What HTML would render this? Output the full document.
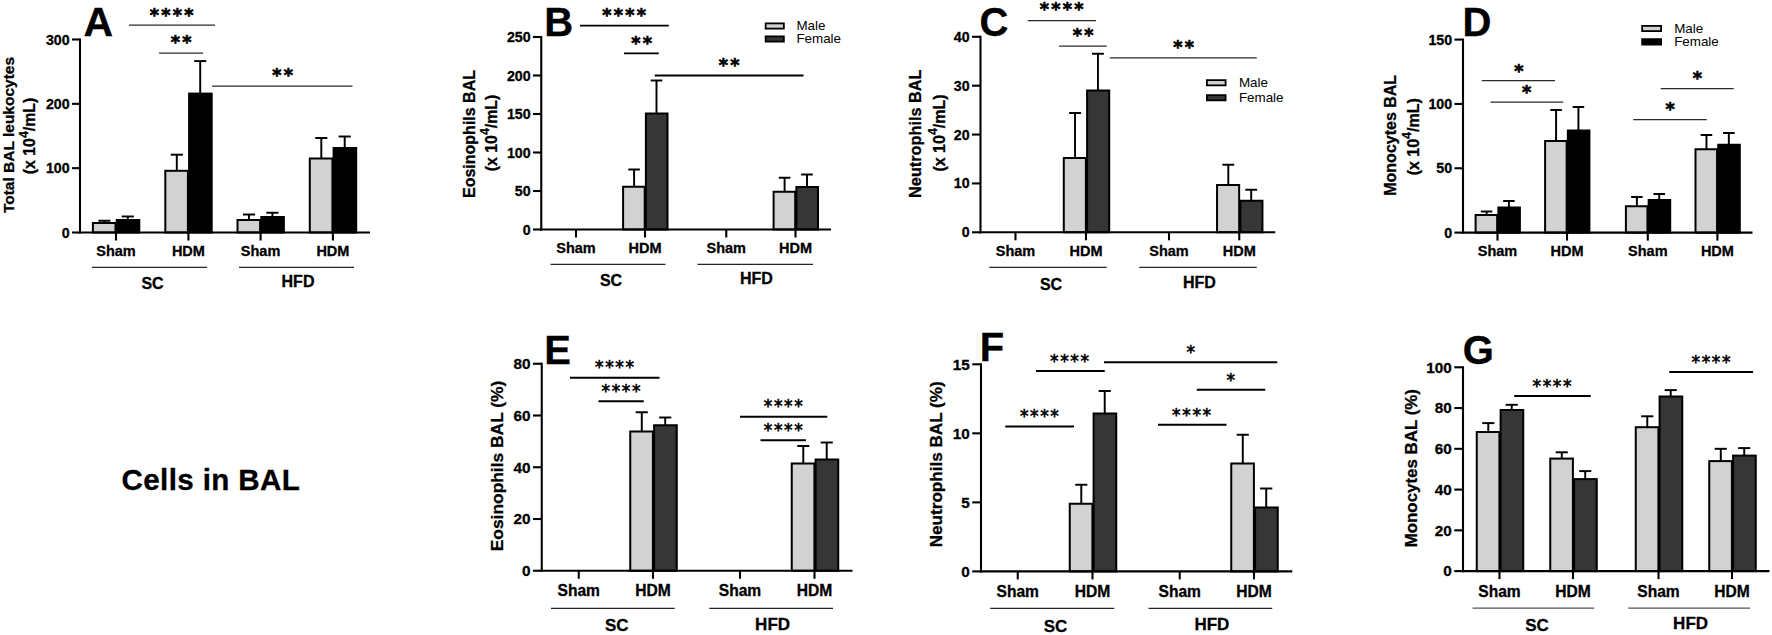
<!DOCTYPE html>
<html lang="en"><head><meta charset="utf-8"><title>Cells in BAL</title>
<style>html,body{margin:0;padding:0;background:#fff;}body{width:1772px;height:635px;overflow:hidden;}svg{display:block;}</style>
</head><body>
<svg width="1772" height="635" viewBox="0 0 1772 635" font-family='"Liberation Sans", sans-serif' fill="#000">
<rect x="0" y="0" width="1772" height="635" fill="#fff"/>
<g id="panel-A">
<line x1="104.4" y1="220.75" x2="104.4" y2="223" stroke="#000" stroke-width="1.95" stroke-linecap="butt"/>
<line x1="98.35" y1="220.75" x2="110.45" y2="220.75" stroke="#000" stroke-width="1.95" stroke-linecap="butt"/>
<rect x="92.9" y="223" width="22.6" height="9.5" fill="#d2d2d2" stroke="#000" stroke-width="2"/>
<line x1="127.8" y1="216.5" x2="127.8" y2="220" stroke="#000" stroke-width="1.95" stroke-linecap="butt"/>
<line x1="121.75" y1="216.5" x2="133.85" y2="216.5" stroke="#000" stroke-width="1.95" stroke-linecap="butt"/>
<rect x="116.7" y="220" width="22.6" height="12.5" fill="#000000" stroke="#000" stroke-width="2"/>
<line x1="176.8" y1="154.7" x2="176.8" y2="170.8" stroke="#000" stroke-width="1.95" stroke-linecap="butt"/>
<line x1="170.75" y1="154.7" x2="182.85" y2="154.7" stroke="#000" stroke-width="1.95" stroke-linecap="butt"/>
<rect x="165.3" y="170.8" width="22.6" height="61.7" fill="#d2d2d2" stroke="#000" stroke-width="2"/>
<line x1="200.2" y1="61.1" x2="200.2" y2="93.6" stroke="#000" stroke-width="1.95" stroke-linecap="butt"/>
<line x1="194.15" y1="61.1" x2="206.25" y2="61.1" stroke="#000" stroke-width="1.95" stroke-linecap="butt"/>
<rect x="189.1" y="93.6" width="22.6" height="138.9" fill="#000000" stroke="#000" stroke-width="2"/>
<line x1="249" y1="214.5" x2="249" y2="220" stroke="#000" stroke-width="1.95" stroke-linecap="butt"/>
<line x1="242.95" y1="214.5" x2="255.05" y2="214.5" stroke="#000" stroke-width="1.95" stroke-linecap="butt"/>
<rect x="237.5" y="220" width="22.6" height="12.5" fill="#d2d2d2" stroke="#000" stroke-width="2"/>
<line x1="272.4" y1="212.75" x2="272.4" y2="217" stroke="#000" stroke-width="1.95" stroke-linecap="butt"/>
<line x1="266.35" y1="212.75" x2="278.45" y2="212.75" stroke="#000" stroke-width="1.95" stroke-linecap="butt"/>
<rect x="261.3" y="217" width="22.6" height="15.5" fill="#000000" stroke="#000" stroke-width="2"/>
<line x1="321.3" y1="138" x2="321.3" y2="158.5" stroke="#000" stroke-width="1.95" stroke-linecap="butt"/>
<line x1="315.25" y1="138" x2="327.35" y2="138" stroke="#000" stroke-width="1.95" stroke-linecap="butt"/>
<rect x="309.8" y="158.5" width="22.6" height="74" fill="#d2d2d2" stroke="#000" stroke-width="2"/>
<line x1="344.7" y1="136.5" x2="344.7" y2="148" stroke="#000" stroke-width="1.95" stroke-linecap="butt"/>
<line x1="338.65" y1="136.5" x2="350.75" y2="136.5" stroke="#000" stroke-width="1.95" stroke-linecap="butt"/>
<rect x="333.6" y="148" width="22.6" height="84.5" fill="#000000" stroke="#000" stroke-width="2"/>
<line x1="80" y1="38.45" x2="80" y2="233.55" stroke="#000" stroke-width="2.1" stroke-linecap="butt"/>
<line x1="78.95" y1="232.5" x2="370" y2="232.5" stroke="#000" stroke-width="2.1" stroke-linecap="butt"/>
<line x1="72" y1="232.5" x2="80" y2="232.5" stroke="#000" stroke-width="2.1" stroke-linecap="butt"/>
<text x="69.6" y="237.5" font-size="14.21" font-weight="bold" text-anchor="end" stroke="#000" stroke-width="0.3">0</text>
<line x1="72" y1="168.17" x2="80" y2="168.17" stroke="#000" stroke-width="2.1" stroke-linecap="butt"/>
<text x="69.6" y="173.17" font-size="14.21" font-weight="bold" text-anchor="end" stroke="#000" stroke-width="0.3">100</text>
<line x1="72" y1="103.83" x2="80" y2="103.83" stroke="#000" stroke-width="2.1" stroke-linecap="butt"/>
<text x="69.6" y="108.84" font-size="14.21" font-weight="bold" text-anchor="end" stroke="#000" stroke-width="0.3">200</text>
<line x1="72" y1="39.5" x2="80" y2="39.5" stroke="#000" stroke-width="2.1" stroke-linecap="butt"/>
<text x="69.6" y="44.5" font-size="14.21" font-weight="bold" text-anchor="end" stroke="#000" stroke-width="0.3">300</text>
<line x1="116" y1="232.5" x2="116" y2="240.5" stroke="#000" stroke-width="2.1" stroke-linecap="butt"/>
<text x="116" y="256" font-size="14.5" font-weight="bold" text-anchor="middle" stroke="#000" stroke-width="0.3">Sham</text>
<line x1="188.4" y1="232.5" x2="188.4" y2="240.5" stroke="#000" stroke-width="2.1" stroke-linecap="butt"/>
<text x="188.4" y="256" font-size="14.5" font-weight="bold" text-anchor="middle" stroke="#000" stroke-width="0.3">HDM</text>
<line x1="260.6" y1="232.5" x2="260.6" y2="240.5" stroke="#000" stroke-width="2.1" stroke-linecap="butt"/>
<text x="260.6" y="256" font-size="14.5" font-weight="bold" text-anchor="middle" stroke="#000" stroke-width="0.3">Sham</text>
<line x1="332.9" y1="232.5" x2="332.9" y2="240.5" stroke="#000" stroke-width="2.1" stroke-linecap="butt"/>
<text x="332.9" y="256" font-size="14.5" font-weight="bold" text-anchor="middle" stroke="#000" stroke-width="0.3">HDM</text>
<line x1="92" y1="267.25" x2="207" y2="267.25" stroke="#262626" stroke-width="1.25" stroke-linecap="butt"/>
<line x1="239" y1="267.25" x2="354" y2="267.25" stroke="#262626" stroke-width="1.25" stroke-linecap="butt"/>
<text x="152.5" y="288.9" font-size="16" font-weight="bold" text-anchor="middle" stroke="#000" stroke-width="0.3">SC</text>
<text x="298" y="287.2" font-size="16" font-weight="bold" text-anchor="middle" stroke="#000" stroke-width="0.3">HFD</text>
<text x="149.65" y="20.78" font-family='"DejaVu Sans", "Liberation Sans", sans-serif' font-size="17.6" font-weight="bold" letter-spacing="2.3" stroke="#000" stroke-width="0.7" text-anchor="start">****</text>
<line x1="129" y1="25" x2="215" y2="25" stroke="#2a2a2a" stroke-width="1.25" stroke-linecap="butt"/>
<text x="170.65" y="48.28" font-family='"DejaVu Sans", "Liberation Sans", sans-serif' font-size="17.6" font-weight="bold" letter-spacing="2.3" stroke="#000" stroke-width="0.7" text-anchor="start">**</text>
<line x1="159" y1="53" x2="203" y2="53" stroke="#2a2a2a" stroke-width="1.25" stroke-linecap="butt"/>
<text x="272.15" y="81.28" font-family='"DejaVu Sans", "Liberation Sans", sans-serif' font-size="17.6" font-weight="bold" letter-spacing="2.3" stroke="#000" stroke-width="0.7" text-anchor="start">**</text>
<line x1="212" y1="86" x2="352.5" y2="86" stroke="#2a2a2a" stroke-width="1.25" stroke-linecap="butt"/>
<text x="83.6" y="36.1" font-size="41" font-weight="bold" text-anchor="start" stroke="#000" stroke-width="0.3">A</text>
<text transform="translate(14.2,135) rotate(-90)" font-size="15.5" font-weight="bold" stroke="#000" stroke-width="0.3" text-anchor="middle">Total BAL leukocytes</text>
<text transform="translate(35.4,136) rotate(-90)" font-size="15.85" font-weight="bold" stroke="#000" stroke-width="0.3" text-anchor="middle">(x 10<tspan dy="-7.6" font-size="12.3">4</tspan><tspan dy="7.6">/mL)</tspan></text>
</g>
<g id="panel-B">
<line x1="634.1" y1="169.5" x2="634.1" y2="186.75" stroke="#000" stroke-width="1.95" stroke-linecap="butt"/>
<line x1="628.3" y1="169.5" x2="639.9" y2="169.5" stroke="#000" stroke-width="1.95" stroke-linecap="butt"/>
<rect x="623.1" y="186.75" width="21.6" height="42.75" fill="#d2d2d2" stroke="#000" stroke-width="2"/>
<line x1="656.5" y1="80.5" x2="656.5" y2="113.5" stroke="#000" stroke-width="1.95" stroke-linecap="butt"/>
<line x1="650.7" y1="80.5" x2="662.3" y2="80.5" stroke="#000" stroke-width="1.95" stroke-linecap="butt"/>
<rect x="645.9" y="113.5" width="21.6" height="116" fill="#363636" stroke="#000" stroke-width="2"/>
<line x1="784.6" y1="177.75" x2="784.6" y2="191.75" stroke="#000" stroke-width="1.95" stroke-linecap="butt"/>
<line x1="778.8" y1="177.75" x2="790.4" y2="177.75" stroke="#000" stroke-width="1.95" stroke-linecap="butt"/>
<rect x="773.6" y="191.75" width="21.6" height="37.75" fill="#d2d2d2" stroke="#000" stroke-width="2"/>
<line x1="807" y1="174.5" x2="807" y2="187" stroke="#000" stroke-width="1.95" stroke-linecap="butt"/>
<line x1="801.2" y1="174.5" x2="812.8" y2="174.5" stroke="#000" stroke-width="1.95" stroke-linecap="butt"/>
<rect x="796.4" y="187" width="21.6" height="42.5" fill="#363636" stroke="#000" stroke-width="2"/>
<line x1="541.25" y1="35.95" x2="541.25" y2="230.55" stroke="#000" stroke-width="2.1" stroke-linecap="butt"/>
<line x1="540.2" y1="229.5" x2="831" y2="229.5" stroke="#000" stroke-width="2.1" stroke-linecap="butt"/>
<line x1="533" y1="229.5" x2="541.25" y2="229.5" stroke="#000" stroke-width="2.1" stroke-linecap="butt"/>
<text x="530.6" y="234.5" font-size="14.21" font-weight="bold" text-anchor="end" stroke="#000" stroke-width="0.3">0</text>
<line x1="533" y1="191" x2="541.25" y2="191" stroke="#000" stroke-width="2.1" stroke-linecap="butt"/>
<text x="530.6" y="196" font-size="14.21" font-weight="bold" text-anchor="end" stroke="#000" stroke-width="0.3">50</text>
<line x1="533" y1="152.5" x2="541.25" y2="152.5" stroke="#000" stroke-width="2.1" stroke-linecap="butt"/>
<text x="530.6" y="157.5" font-size="14.21" font-weight="bold" text-anchor="end" stroke="#000" stroke-width="0.3">100</text>
<line x1="533" y1="114" x2="541.25" y2="114" stroke="#000" stroke-width="2.1" stroke-linecap="butt"/>
<text x="530.6" y="119" font-size="14.21" font-weight="bold" text-anchor="end" stroke="#000" stroke-width="0.3">150</text>
<line x1="533" y1="75.5" x2="541.25" y2="75.5" stroke="#000" stroke-width="2.1" stroke-linecap="butt"/>
<text x="530.6" y="80.5" font-size="14.21" font-weight="bold" text-anchor="end" stroke="#000" stroke-width="0.3">200</text>
<line x1="533" y1="37" x2="541.25" y2="37" stroke="#000" stroke-width="2.1" stroke-linecap="butt"/>
<text x="530.6" y="42" font-size="14.21" font-weight="bold" text-anchor="end" stroke="#000" stroke-width="0.3">250</text>
<line x1="576" y1="229.5" x2="576" y2="237.5" stroke="#000" stroke-width="2.1" stroke-linecap="butt"/>
<text x="576" y="253" font-size="14.5" font-weight="bold" text-anchor="middle" stroke="#000" stroke-width="0.3">Sham</text>
<line x1="645" y1="229.5" x2="645" y2="237.5" stroke="#000" stroke-width="2.1" stroke-linecap="butt"/>
<text x="645" y="253" font-size="14.5" font-weight="bold" text-anchor="middle" stroke="#000" stroke-width="0.3">HDM</text>
<line x1="726.25" y1="229.5" x2="726.25" y2="237.5" stroke="#000" stroke-width="2.1" stroke-linecap="butt"/>
<text x="726.25" y="253" font-size="14.5" font-weight="bold" text-anchor="middle" stroke="#000" stroke-width="0.3">Sham</text>
<line x1="795.5" y1="229.5" x2="795.5" y2="237.5" stroke="#000" stroke-width="2.1" stroke-linecap="butt"/>
<text x="795.5" y="253" font-size="14.5" font-weight="bold" text-anchor="middle" stroke="#000" stroke-width="0.3">HDM</text>
<line x1="550.5" y1="264.25" x2="665.5" y2="264.25" stroke="#262626" stroke-width="1.25" stroke-linecap="butt"/>
<line x1="697.5" y1="264.25" x2="813" y2="264.25" stroke="#262626" stroke-width="1.25" stroke-linecap="butt"/>
<text x="611" y="285.5" font-size="16" font-weight="bold" text-anchor="middle" stroke="#000" stroke-width="0.3">SC</text>
<text x="756.4" y="284" font-size="16" font-weight="bold" text-anchor="middle" stroke="#000" stroke-width="0.3">HFD</text>
<text x="602.15" y="20.78" font-family='"DejaVu Sans", "Liberation Sans", sans-serif' font-size="17.6" font-weight="bold" letter-spacing="2.3" stroke="#000" stroke-width="0.7" text-anchor="start">****</text>
<line x1="580" y1="25.6" x2="668.8" y2="25.6" stroke="#000" stroke-width="1.8" stroke-linecap="butt"/>
<text x="631.15" y="49.28" font-family='"DejaVu Sans", "Liberation Sans", sans-serif' font-size="17.6" font-weight="bold" letter-spacing="2.3" stroke="#000" stroke-width="0.7" text-anchor="start">**</text>
<line x1="624" y1="53.4" x2="658.75" y2="53.4" stroke="#000" stroke-width="1.8" stroke-linecap="butt"/>
<text x="718.65" y="70.83" font-family='"DejaVu Sans", "Liberation Sans", sans-serif' font-size="17.6" font-weight="bold" letter-spacing="2.3" stroke="#000" stroke-width="0.7" text-anchor="start">**</text>
<line x1="654.75" y1="75.5" x2="803.5" y2="75.5" stroke="#000" stroke-width="1.8" stroke-linecap="butt"/>
<text x="544.2" y="36" font-size="40" font-weight="bold" text-anchor="start" stroke="#000" stroke-width="0.3">B</text>
<rect x="765.65" y="23.4" width="18.2" height="5.2" fill="#d2d2d2" stroke="#000" stroke-width="1.8"/>
<rect x="765.65" y="36.4" width="18.2" height="5.2" fill="#363636" stroke="#000" stroke-width="1.8"/>
<text x="796.4" y="30" font-size="13.4" font-weight="normal" text-anchor="start">Male</text>
<text x="796.4" y="42.5" font-size="13.4" font-weight="normal" text-anchor="start">Female</text>
<text transform="translate(474.9,134) rotate(-90)" font-size="16" font-weight="bold" stroke="#000" stroke-width="0.3" text-anchor="middle">Eosinophils BAL</text>
<text transform="translate(496.6,133) rotate(-90)" font-size="15.9" font-weight="bold" stroke="#000" stroke-width="0.3" text-anchor="middle">(x 10<tspan dy="-7.6" font-size="12.3">4</tspan><tspan dy="7.6">/mL)</tspan></text>
</g>
<g id="panel-C">
<line x1="1075.05" y1="113" x2="1075.05" y2="158" stroke="#000" stroke-width="1.95" stroke-linecap="butt"/>
<line x1="1069.12" y1="113" x2="1080.97" y2="113" stroke="#000" stroke-width="1.95" stroke-linecap="butt"/>
<rect x="1063.8" y="158" width="22.1" height="74.3" fill="#d2d2d2" stroke="#000" stroke-width="2"/>
<line x1="1097.95" y1="53.75" x2="1097.95" y2="90.5" stroke="#000" stroke-width="1.95" stroke-linecap="butt"/>
<line x1="1092.03" y1="53.75" x2="1103.88" y2="53.75" stroke="#000" stroke-width="1.95" stroke-linecap="butt"/>
<rect x="1087.1" y="90.5" width="22.1" height="141.8" fill="#363636" stroke="#000" stroke-width="2"/>
<line x1="1228.3" y1="164.75" x2="1228.3" y2="185" stroke="#000" stroke-width="1.95" stroke-linecap="butt"/>
<line x1="1222.38" y1="164.75" x2="1234.22" y2="164.75" stroke="#000" stroke-width="1.95" stroke-linecap="butt"/>
<rect x="1217.05" y="185" width="22.1" height="47.3" fill="#d2d2d2" stroke="#000" stroke-width="2"/>
<line x1="1251.2" y1="189.75" x2="1251.2" y2="200.75" stroke="#000" stroke-width="1.95" stroke-linecap="butt"/>
<line x1="1245.28" y1="189.75" x2="1257.12" y2="189.75" stroke="#000" stroke-width="1.95" stroke-linecap="butt"/>
<rect x="1240.35" y="200.75" width="22.1" height="31.55" fill="#363636" stroke="#000" stroke-width="2"/>
<line x1="980.5" y1="35.75" x2="980.5" y2="233.35" stroke="#000" stroke-width="2.1" stroke-linecap="butt"/>
<line x1="979.45" y1="232.3" x2="1275.25" y2="232.3" stroke="#000" stroke-width="2.1" stroke-linecap="butt"/>
<line x1="972" y1="232.3" x2="980.5" y2="232.3" stroke="#000" stroke-width="2.1" stroke-linecap="butt"/>
<text x="969.6" y="237.3" font-size="14.21" font-weight="bold" text-anchor="end" stroke="#000" stroke-width="0.3">0</text>
<line x1="972" y1="183.43" x2="980.5" y2="183.43" stroke="#000" stroke-width="2.1" stroke-linecap="butt"/>
<text x="969.6" y="188.43" font-size="14.21" font-weight="bold" text-anchor="end" stroke="#000" stroke-width="0.3">10</text>
<line x1="972" y1="134.55" x2="980.5" y2="134.55" stroke="#000" stroke-width="2.1" stroke-linecap="butt"/>
<text x="969.6" y="139.55" font-size="14.21" font-weight="bold" text-anchor="end" stroke="#000" stroke-width="0.3">20</text>
<line x1="972" y1="85.68" x2="980.5" y2="85.68" stroke="#000" stroke-width="2.1" stroke-linecap="butt"/>
<text x="969.6" y="90.68" font-size="14.21" font-weight="bold" text-anchor="end" stroke="#000" stroke-width="0.3">30</text>
<line x1="972" y1="36.8" x2="980.5" y2="36.8" stroke="#000" stroke-width="2.1" stroke-linecap="butt"/>
<text x="969.6" y="41.8" font-size="14.21" font-weight="bold" text-anchor="end" stroke="#000" stroke-width="0.3">40</text>
<line x1="1015.5" y1="232.3" x2="1015.5" y2="240.3" stroke="#000" stroke-width="2.1" stroke-linecap="butt"/>
<text x="1015.5" y="256" font-size="14.5" font-weight="bold" text-anchor="middle" stroke="#000" stroke-width="0.3">Sham</text>
<line x1="1086" y1="232.3" x2="1086" y2="240.3" stroke="#000" stroke-width="2.1" stroke-linecap="butt"/>
<text x="1086" y="256" font-size="14.5" font-weight="bold" text-anchor="middle" stroke="#000" stroke-width="0.3">HDM</text>
<line x1="1169" y1="232.3" x2="1169" y2="240.3" stroke="#000" stroke-width="2.1" stroke-linecap="butt"/>
<text x="1169" y="256" font-size="14.5" font-weight="bold" text-anchor="middle" stroke="#000" stroke-width="0.3">Sham</text>
<line x1="1239.25" y1="232.3" x2="1239.25" y2="240.3" stroke="#000" stroke-width="2.1" stroke-linecap="butt"/>
<text x="1239.25" y="256" font-size="14.5" font-weight="bold" text-anchor="middle" stroke="#000" stroke-width="0.3">HDM</text>
<line x1="989.25" y1="267.4" x2="1106.75" y2="267.4" stroke="#262626" stroke-width="1.25" stroke-linecap="butt"/>
<line x1="1139.25" y1="267.4" x2="1256.75" y2="267.4" stroke="#262626" stroke-width="1.25" stroke-linecap="butt"/>
<text x="1051" y="290" font-size="16" font-weight="bold" text-anchor="middle" stroke="#000" stroke-width="0.3">SC</text>
<text x="1199.4" y="287.6" font-size="16" font-weight="bold" text-anchor="middle" stroke="#000" stroke-width="0.3">HFD</text>
<text x="1039.65" y="15.03" font-family='"DejaVu Sans", "Liberation Sans", sans-serif' font-size="17.6" font-weight="bold" letter-spacing="2.3" stroke="#000" stroke-width="0.7" text-anchor="start">****</text>
<line x1="1027.75" y1="20.5" x2="1096" y2="20.5" stroke="#2a2a2a" stroke-width="1.25" stroke-linecap="butt"/>
<text x="1072.65" y="40.53" font-family='"DejaVu Sans", "Liberation Sans", sans-serif' font-size="17.6" font-weight="bold" letter-spacing="2.3" stroke="#000" stroke-width="0.7" text-anchor="start">**</text>
<line x1="1059" y1="46" x2="1106.75" y2="46" stroke="#2a2a2a" stroke-width="1.25" stroke-linecap="butt"/>
<text x="1173.15" y="52.53" font-family='"DejaVu Sans", "Liberation Sans", sans-serif' font-size="17.6" font-weight="bold" letter-spacing="2.3" stroke="#000" stroke-width="0.7" text-anchor="start">**</text>
<line x1="1109.75" y1="57.75" x2="1256.75" y2="57.75" stroke="#2a2a2a" stroke-width="1.25" stroke-linecap="butt"/>
<text x="979.5" y="35.6" font-size="40" font-weight="bold" text-anchor="start" stroke="#000" stroke-width="0.3">C</text>
<rect x="1206.9" y="80.15" width="18.7" height="5.2" fill="#d2d2d2" stroke="#000" stroke-width="1.8"/>
<rect x="1206.9" y="95.15" width="18.7" height="5.2" fill="#363636" stroke="#000" stroke-width="1.8"/>
<text x="1238.9" y="87" font-size="13.4" font-weight="normal" text-anchor="start">Male</text>
<text x="1238.9" y="101.75" font-size="13.4" font-weight="normal" text-anchor="start">Female</text>
<text transform="translate(921.4,133.7) rotate(-90)" font-size="16.3" font-weight="bold" stroke="#000" stroke-width="0.3" text-anchor="middle">Neutrophils BAL</text>
<text transform="translate(944.5,133) rotate(-90)" font-size="16" font-weight="bold" stroke="#000" stroke-width="0.3" text-anchor="middle">(x 10<tspan dy="-7.6" font-size="12.3">4</tspan><tspan dy="7.6">/mL)</tspan></text>
</g>
<g id="panel-D">
<line x1="1486.58" y1="211.5" x2="1486.58" y2="215" stroke="#000" stroke-width="1.95" stroke-linecap="butt"/>
<line x1="1480.79" y1="211.5" x2="1492.36" y2="211.5" stroke="#000" stroke-width="1.95" stroke-linecap="butt"/>
<rect x="1475.6" y="215" width="21.55" height="17.6" fill="#d2d2d2" stroke="#000" stroke-width="2"/>
<line x1="1508.92" y1="201" x2="1508.92" y2="207.5" stroke="#000" stroke-width="1.95" stroke-linecap="butt"/>
<line x1="1503.14" y1="201" x2="1514.71" y2="201" stroke="#000" stroke-width="1.95" stroke-linecap="butt"/>
<rect x="1498.35" y="207.5" width="21.55" height="25.1" fill="#000000" stroke="#000" stroke-width="2"/>
<line x1="1556.08" y1="110" x2="1556.08" y2="141" stroke="#000" stroke-width="1.95" stroke-linecap="butt"/>
<line x1="1550.29" y1="110" x2="1561.86" y2="110" stroke="#000" stroke-width="1.95" stroke-linecap="butt"/>
<rect x="1545.1" y="141" width="21.55" height="91.6" fill="#d2d2d2" stroke="#000" stroke-width="2"/>
<line x1="1578.42" y1="107" x2="1578.42" y2="130.5" stroke="#000" stroke-width="1.95" stroke-linecap="butt"/>
<line x1="1572.64" y1="107" x2="1584.21" y2="107" stroke="#000" stroke-width="1.95" stroke-linecap="butt"/>
<rect x="1567.85" y="130.5" width="21.55" height="102.1" fill="#000000" stroke="#000" stroke-width="2"/>
<line x1="1636.88" y1="197" x2="1636.88" y2="206.25" stroke="#000" stroke-width="1.95" stroke-linecap="butt"/>
<line x1="1631.09" y1="197" x2="1642.66" y2="197" stroke="#000" stroke-width="1.95" stroke-linecap="butt"/>
<rect x="1625.9" y="206.25" width="21.55" height="26.35" fill="#d2d2d2" stroke="#000" stroke-width="2"/>
<line x1="1659.22" y1="194" x2="1659.22" y2="200" stroke="#000" stroke-width="1.95" stroke-linecap="butt"/>
<line x1="1653.44" y1="194" x2="1665.01" y2="194" stroke="#000" stroke-width="1.95" stroke-linecap="butt"/>
<rect x="1648.65" y="200" width="21.55" height="32.6" fill="#000000" stroke="#000" stroke-width="2"/>
<line x1="1706.48" y1="135" x2="1706.48" y2="149.25" stroke="#000" stroke-width="1.95" stroke-linecap="butt"/>
<line x1="1700.69" y1="135" x2="1712.26" y2="135" stroke="#000" stroke-width="1.95" stroke-linecap="butt"/>
<rect x="1695.5" y="149.25" width="21.55" height="83.35" fill="#d2d2d2" stroke="#000" stroke-width="2"/>
<line x1="1728.83" y1="133" x2="1728.83" y2="144.75" stroke="#000" stroke-width="1.95" stroke-linecap="butt"/>
<line x1="1723.04" y1="133" x2="1734.61" y2="133" stroke="#000" stroke-width="1.95" stroke-linecap="butt"/>
<rect x="1718.25" y="144.75" width="21.55" height="87.85" fill="#000000" stroke="#000" stroke-width="2"/>
<line x1="1463" y1="38.55" x2="1463" y2="233.65" stroke="#000" stroke-width="2.1" stroke-linecap="butt"/>
<line x1="1461.95" y1="232.6" x2="1752.5" y2="232.6" stroke="#000" stroke-width="2.1" stroke-linecap="butt"/>
<line x1="1454.5" y1="232.6" x2="1463" y2="232.6" stroke="#000" stroke-width="2.1" stroke-linecap="butt"/>
<text x="1452.1" y="237.6" font-size="14.21" font-weight="bold" text-anchor="end" stroke="#000" stroke-width="0.3">0</text>
<line x1="1454.5" y1="168.27" x2="1463" y2="168.27" stroke="#000" stroke-width="2.1" stroke-linecap="butt"/>
<text x="1452.1" y="173.27" font-size="14.21" font-weight="bold" text-anchor="end" stroke="#000" stroke-width="0.3">50</text>
<line x1="1454.5" y1="103.93" x2="1463" y2="103.93" stroke="#000" stroke-width="2.1" stroke-linecap="butt"/>
<text x="1452.1" y="108.94" font-size="14.21" font-weight="bold" text-anchor="end" stroke="#000" stroke-width="0.3">100</text>
<line x1="1454.5" y1="39.6" x2="1463" y2="39.6" stroke="#000" stroke-width="2.1" stroke-linecap="butt"/>
<text x="1452.1" y="44.6" font-size="14.21" font-weight="bold" text-anchor="end" stroke="#000" stroke-width="0.3">150</text>
<line x1="1497.5" y1="232.6" x2="1497.5" y2="240.6" stroke="#000" stroke-width="2.1" stroke-linecap="butt"/>
<text x="1497.5" y="256" font-size="14.5" font-weight="bold" text-anchor="middle" stroke="#000" stroke-width="0.3">Sham</text>
<line x1="1567" y1="232.6" x2="1567" y2="240.6" stroke="#000" stroke-width="2.1" stroke-linecap="butt"/>
<text x="1567" y="256" font-size="14.5" font-weight="bold" text-anchor="middle" stroke="#000" stroke-width="0.3">HDM</text>
<line x1="1647.8" y1="232.6" x2="1647.8" y2="240.6" stroke="#000" stroke-width="2.1" stroke-linecap="butt"/>
<text x="1647.8" y="256" font-size="14.5" font-weight="bold" text-anchor="middle" stroke="#000" stroke-width="0.3">Sham</text>
<line x1="1717.4" y1="232.6" x2="1717.4" y2="240.6" stroke="#000" stroke-width="2.1" stroke-linecap="butt"/>
<text x="1717.4" y="256" font-size="14.5" font-weight="bold" text-anchor="middle" stroke="#000" stroke-width="0.3">HDM</text>
<text x="1514.15" y="76.6" font-family='"DejaVu Sans", "Liberation Sans", sans-serif' font-size="17.6" font-weight="bold" letter-spacing="2.3" stroke="#000" stroke-width="0.7" text-anchor="start">*</text>
<line x1="1481.75" y1="80.5" x2="1555" y2="80.5" stroke="#2a2a2a" stroke-width="1.25" stroke-linecap="butt"/>
<text x="1522" y="97.85" font-family='"DejaVu Sans", "Liberation Sans", sans-serif' font-size="17.6" font-weight="bold" letter-spacing="2.3" stroke="#000" stroke-width="0.7" text-anchor="start">*</text>
<line x1="1490.5" y1="102" x2="1563.25" y2="102" stroke="#2a2a2a" stroke-width="1.25" stroke-linecap="butt"/>
<text x="1692.8" y="84.1" font-family='"DejaVu Sans", "Liberation Sans", sans-serif' font-size="17.6" font-weight="bold" letter-spacing="2.3" stroke="#000" stroke-width="0.7" text-anchor="start">*</text>
<line x1="1660.75" y1="88.5" x2="1733.75" y2="88.5" stroke="#2a2a2a" stroke-width="1.25" stroke-linecap="butt"/>
<text x="1665.4" y="114.85" font-family='"DejaVu Sans", "Liberation Sans", sans-serif' font-size="17.6" font-weight="bold" letter-spacing="2.3" stroke="#000" stroke-width="0.7" text-anchor="start">*</text>
<line x1="1633.25" y1="119.5" x2="1706.75" y2="119.5" stroke="#2a2a2a" stroke-width="1.25" stroke-linecap="butt"/>
<text x="1462.4" y="36.2" font-size="40" font-weight="bold" text-anchor="start" stroke="#000" stroke-width="0.3">D</text>
<rect x="1642.15" y="25.9" width="18.95" height="5.2" fill="#d2d2d2" stroke="#000" stroke-width="1.8"/>
<rect x="1642.15" y="39.15" width="18.95" height="5.45" fill="#000000" stroke="#000" stroke-width="1.8"/>
<text x="1674.15" y="33" font-size="13.4" font-weight="normal" text-anchor="start">Male</text>
<text x="1674.15" y="46.25" font-size="13.4" font-weight="normal" text-anchor="start">Female</text>
<text transform="translate(1396.2,135.3) rotate(-90)" font-size="16" font-weight="bold" stroke="#000" stroke-width="0.3" text-anchor="middle">Monocytes BAL</text>
<text transform="translate(1418.8,136.8) rotate(-90)" font-size="16" font-weight="bold" stroke="#000" stroke-width="0.3" text-anchor="middle">(x 10<tspan dy="-7.6" font-size="12.3">4</tspan><tspan dy="7.6">/mL)</tspan></text>
</g>
<g id="panel-E">
<line x1="641.78" y1="412.25" x2="641.78" y2="431.5" stroke="#000" stroke-width="1.95" stroke-linecap="butt"/>
<line x1="635.71" y1="412.25" x2="647.84" y2="412.25" stroke="#000" stroke-width="1.95" stroke-linecap="butt"/>
<rect x="630.25" y="431.5" width="22.65" height="139.25" fill="#d2d2d2" stroke="#000" stroke-width="2"/>
<line x1="665.22" y1="417.5" x2="665.22" y2="425.25" stroke="#000" stroke-width="1.95" stroke-linecap="butt"/>
<line x1="659.16" y1="417.5" x2="671.29" y2="417.5" stroke="#000" stroke-width="1.95" stroke-linecap="butt"/>
<rect x="654.1" y="425.25" width="22.65" height="145.5" fill="#363636" stroke="#000" stroke-width="2"/>
<line x1="803.28" y1="446" x2="803.28" y2="463.5" stroke="#000" stroke-width="1.95" stroke-linecap="butt"/>
<line x1="797.21" y1="446" x2="809.34" y2="446" stroke="#000" stroke-width="1.95" stroke-linecap="butt"/>
<rect x="791.75" y="463.5" width="22.65" height="107.25" fill="#d2d2d2" stroke="#000" stroke-width="2"/>
<line x1="826.72" y1="442.5" x2="826.72" y2="459.5" stroke="#000" stroke-width="1.95" stroke-linecap="butt"/>
<line x1="820.66" y1="442.5" x2="832.79" y2="442.5" stroke="#000" stroke-width="1.95" stroke-linecap="butt"/>
<rect x="815.6" y="459.5" width="22.65" height="111.25" fill="#363636" stroke="#000" stroke-width="2"/>
<line x1="541.75" y1="362.7" x2="541.75" y2="571.8" stroke="#000" stroke-width="2.1" stroke-linecap="butt"/>
<line x1="540.7" y1="570.75" x2="852.5" y2="570.75" stroke="#000" stroke-width="2.1" stroke-linecap="butt"/>
<line x1="533" y1="570.75" x2="541.75" y2="570.75" stroke="#000" stroke-width="2.1" stroke-linecap="butt"/>
<text x="530.6" y="576.13" font-size="15.29" font-weight="bold" text-anchor="end" stroke="#000" stroke-width="0.3">0</text>
<line x1="533" y1="519" x2="541.75" y2="519" stroke="#000" stroke-width="2.1" stroke-linecap="butt"/>
<text x="530.6" y="524.38" font-size="15.29" font-weight="bold" text-anchor="end" stroke="#000" stroke-width="0.3">20</text>
<line x1="533" y1="467.25" x2="541.75" y2="467.25" stroke="#000" stroke-width="2.1" stroke-linecap="butt"/>
<text x="530.6" y="472.63" font-size="15.29" font-weight="bold" text-anchor="end" stroke="#000" stroke-width="0.3">40</text>
<line x1="533" y1="415.5" x2="541.75" y2="415.5" stroke="#000" stroke-width="2.1" stroke-linecap="butt"/>
<text x="530.6" y="420.88" font-size="15.29" font-weight="bold" text-anchor="end" stroke="#000" stroke-width="0.3">60</text>
<line x1="533" y1="363.75" x2="541.75" y2="363.75" stroke="#000" stroke-width="2.1" stroke-linecap="butt"/>
<text x="530.6" y="369.13" font-size="15.29" font-weight="bold" text-anchor="end" stroke="#000" stroke-width="0.3">80</text>
<line x1="578.75" y1="570.75" x2="578.75" y2="578.75" stroke="#000" stroke-width="2.1" stroke-linecap="butt"/>
<text x="578.75" y="596" font-size="15.6" font-weight="bold" text-anchor="middle" stroke="#000" stroke-width="0.3">Sham</text>
<line x1="653" y1="570.75" x2="653" y2="578.75" stroke="#000" stroke-width="2.1" stroke-linecap="butt"/>
<text x="653" y="596" font-size="15.6" font-weight="bold" text-anchor="middle" stroke="#000" stroke-width="0.3">HDM</text>
<line x1="740" y1="570.75" x2="740" y2="578.75" stroke="#000" stroke-width="2.1" stroke-linecap="butt"/>
<text x="740" y="596" font-size="15.6" font-weight="bold" text-anchor="middle" stroke="#000" stroke-width="0.3">Sham</text>
<line x1="814.5" y1="570.75" x2="814.5" y2="578.75" stroke="#000" stroke-width="2.1" stroke-linecap="butt"/>
<text x="814.5" y="596" font-size="15.6" font-weight="bold" text-anchor="middle" stroke="#000" stroke-width="0.3">HDM</text>
<line x1="551" y1="608.3" x2="674.75" y2="608.3" stroke="#262626" stroke-width="1.25" stroke-linecap="butt"/>
<line x1="709.25" y1="608.3" x2="833" y2="608.3" stroke="#262626" stroke-width="1.25" stroke-linecap="butt"/>
<text x="616.75" y="631.1" font-size="17" font-weight="bold" text-anchor="middle" stroke="#000" stroke-width="0.3">SC</text>
<text x="772.6" y="629.5" font-size="17" font-weight="bold" text-anchor="middle" stroke="#000" stroke-width="0.3">HFD</text>
<text x="595.02" y="373.31" font-family='"DejaVu Sans", "Liberation Sans", sans-serif' font-size="17" font-weight="normal" letter-spacing="1.65" stroke="#000" stroke-width="0.6" text-anchor="start">****</text>
<line x1="570" y1="377.75" x2="659.5" y2="377.75" stroke="#000" stroke-width="2.2" stroke-linecap="butt"/>
<text x="601.52" y="397.06" font-family='"DejaVu Sans", "Liberation Sans", sans-serif' font-size="17" font-weight="normal" letter-spacing="1.65" stroke="#000" stroke-width="0.6" text-anchor="start">****</text>
<line x1="598.5" y1="401.25" x2="643.75" y2="401.25" stroke="#000" stroke-width="2.2" stroke-linecap="butt"/>
<text x="763.77" y="412.06" font-family='"DejaVu Sans", "Liberation Sans", sans-serif' font-size="17" font-weight="normal" letter-spacing="1.65" stroke="#000" stroke-width="0.6" text-anchor="start">****</text>
<line x1="740" y1="416.75" x2="827.25" y2="416.75" stroke="#000" stroke-width="2.2" stroke-linecap="butt"/>
<text x="763.77" y="435.81" font-family='"DejaVu Sans", "Liberation Sans", sans-serif' font-size="17" font-weight="normal" letter-spacing="1.65" stroke="#000" stroke-width="0.6" text-anchor="start">****</text>
<line x1="760.5" y1="440.25" x2="806" y2="440.25" stroke="#000" stroke-width="2.2" stroke-linecap="butt"/>
<text x="544.2" y="364.2" font-size="40" font-weight="bold" text-anchor="start" stroke="#000" stroke-width="0.3">E</text>
<text transform="translate(503,466) rotate(-90)" font-size="17.4" font-weight="bold" stroke="#000" stroke-width="0.3" text-anchor="middle">Eosinophils BAL (%)</text>
</g>
<g id="panel-F">
<line x1="1081.28" y1="484.75" x2="1081.28" y2="503.75" stroke="#000" stroke-width="1.95" stroke-linecap="butt"/>
<line x1="1075.21" y1="484.75" x2="1087.34" y2="484.75" stroke="#000" stroke-width="1.95" stroke-linecap="butt"/>
<rect x="1069.75" y="503.75" width="22.65" height="67.65" fill="#d2d2d2" stroke="#000" stroke-width="2"/>
<line x1="1104.72" y1="391" x2="1104.72" y2="413.5" stroke="#000" stroke-width="1.95" stroke-linecap="butt"/>
<line x1="1098.66" y1="391" x2="1110.79" y2="391" stroke="#000" stroke-width="1.95" stroke-linecap="butt"/>
<rect x="1093.6" y="413.5" width="22.65" height="157.9" fill="#363636" stroke="#000" stroke-width="2"/>
<line x1="1242.78" y1="434.75" x2="1242.78" y2="463.5" stroke="#000" stroke-width="1.95" stroke-linecap="butt"/>
<line x1="1236.71" y1="434.75" x2="1248.84" y2="434.75" stroke="#000" stroke-width="1.95" stroke-linecap="butt"/>
<rect x="1231.25" y="463.5" width="22.65" height="107.9" fill="#d2d2d2" stroke="#000" stroke-width="2"/>
<line x1="1266.22" y1="488.5" x2="1266.22" y2="507.5" stroke="#000" stroke-width="1.95" stroke-linecap="butt"/>
<line x1="1260.16" y1="488.5" x2="1272.29" y2="488.5" stroke="#000" stroke-width="1.95" stroke-linecap="butt"/>
<rect x="1255.1" y="507.5" width="22.65" height="63.9" fill="#363636" stroke="#000" stroke-width="2"/>
<line x1="981" y1="363.25" x2="981" y2="572.45" stroke="#000" stroke-width="2.1" stroke-linecap="butt"/>
<line x1="979.95" y1="571.4" x2="1292.25" y2="571.4" stroke="#000" stroke-width="2.1" stroke-linecap="butt"/>
<line x1="972.25" y1="571.4" x2="981" y2="571.4" stroke="#000" stroke-width="2.1" stroke-linecap="butt"/>
<text x="969.85" y="576.78" font-size="15.29" font-weight="bold" text-anchor="end" stroke="#000" stroke-width="0.3">0</text>
<line x1="972.25" y1="502.37" x2="981" y2="502.37" stroke="#000" stroke-width="2.1" stroke-linecap="butt"/>
<text x="969.85" y="507.75" font-size="15.29" font-weight="bold" text-anchor="end" stroke="#000" stroke-width="0.3">5</text>
<line x1="972.25" y1="433.33" x2="981" y2="433.33" stroke="#000" stroke-width="2.1" stroke-linecap="butt"/>
<text x="969.85" y="438.72" font-size="15.29" font-weight="bold" text-anchor="end" stroke="#000" stroke-width="0.3">10</text>
<line x1="972.25" y1="364.3" x2="981" y2="364.3" stroke="#000" stroke-width="2.1" stroke-linecap="butt"/>
<text x="969.85" y="369.68" font-size="15.29" font-weight="bold" text-anchor="end" stroke="#000" stroke-width="0.3">15</text>
<line x1="1017.75" y1="571.4" x2="1017.75" y2="579.4" stroke="#000" stroke-width="2.1" stroke-linecap="butt"/>
<text x="1017.75" y="596.5" font-size="15.6" font-weight="bold" text-anchor="middle" stroke="#000" stroke-width="0.3">Sham</text>
<line x1="1092.5" y1="571.4" x2="1092.5" y2="579.4" stroke="#000" stroke-width="2.1" stroke-linecap="butt"/>
<text x="1092.5" y="596.5" font-size="15.6" font-weight="bold" text-anchor="middle" stroke="#000" stroke-width="0.3">HDM</text>
<line x1="1179.75" y1="571.4" x2="1179.75" y2="579.4" stroke="#000" stroke-width="2.1" stroke-linecap="butt"/>
<text x="1179.75" y="596.5" font-size="15.6" font-weight="bold" text-anchor="middle" stroke="#000" stroke-width="0.3">Sham</text>
<line x1="1254" y1="571.4" x2="1254" y2="579.4" stroke="#000" stroke-width="2.1" stroke-linecap="butt"/>
<text x="1254" y="596.5" font-size="15.6" font-weight="bold" text-anchor="middle" stroke="#000" stroke-width="0.3">HDM</text>
<line x1="990.25" y1="608.4" x2="1114.25" y2="608.4" stroke="#262626" stroke-width="1.25" stroke-linecap="butt"/>
<line x1="1148.5" y1="608.4" x2="1272.25" y2="608.4" stroke="#262626" stroke-width="1.25" stroke-linecap="butt"/>
<text x="1055.6" y="631.7" font-size="17" font-weight="bold" text-anchor="middle" stroke="#000" stroke-width="0.3">SC</text>
<text x="1211.9" y="629.6" font-size="17" font-weight="bold" text-anchor="middle" stroke="#000" stroke-width="0.3">HFD</text>
<text x="1050.03" y="366.86" font-family='"DejaVu Sans", "Liberation Sans", sans-serif' font-size="17" font-weight="normal" letter-spacing="1.65" stroke="#000" stroke-width="0.6" text-anchor="start">****</text>
<line x1="1036" y1="371" x2="1104.75" y2="371" stroke="#000" stroke-width="2" stroke-linecap="butt"/>
<text x="1019.93" y="422.36" font-family='"DejaVu Sans", "Liberation Sans", sans-serif' font-size="17" font-weight="normal" letter-spacing="1.65" stroke="#000" stroke-width="0.6" text-anchor="start">****</text>
<line x1="1005.25" y1="426.5" x2="1074" y2="426.5" stroke="#000" stroke-width="2" stroke-linecap="butt"/>
<text x="1186.5" y="358.11" font-family='"DejaVu Sans", "Liberation Sans", sans-serif' font-size="17" font-weight="normal" letter-spacing="1.65" stroke="#000" stroke-width="0.6" text-anchor="start">*</text>
<line x1="1104" y1="362.25" x2="1277.25" y2="362.25" stroke="#000" stroke-width="2" stroke-linecap="butt"/>
<text x="1226.5" y="385.61" font-family='"DejaVu Sans", "Liberation Sans", sans-serif' font-size="17" font-weight="normal" letter-spacing="1.65" stroke="#000" stroke-width="0.6" text-anchor="start">*</text>
<line x1="1196.75" y1="389.75" x2="1265.25" y2="389.75" stroke="#000" stroke-width="2" stroke-linecap="butt"/>
<text x="1172.12" y="420.61" font-family='"DejaVu Sans", "Liberation Sans", sans-serif' font-size="17" font-weight="normal" letter-spacing="1.65" stroke="#000" stroke-width="0.6" text-anchor="start">****</text>
<line x1="1158" y1="424.75" x2="1226.5" y2="424.75" stroke="#000" stroke-width="2" stroke-linecap="butt"/>
<text x="979.7" y="360.5" font-size="40" font-weight="bold" text-anchor="start" stroke="#000" stroke-width="0.3">F</text>
<text transform="translate(942.2,464.3) rotate(-90)" font-size="17.1" font-weight="bold" stroke="#000" stroke-width="0.3" text-anchor="middle">Neutrophils BAL (%)</text>
</g>
<g id="panel-G">
<line x1="1488.28" y1="423.1" x2="1488.28" y2="432" stroke="#000" stroke-width="1.95" stroke-linecap="butt"/>
<line x1="1482.21" y1="423.1" x2="1494.34" y2="423.1" stroke="#000" stroke-width="1.95" stroke-linecap="butt"/>
<rect x="1476.75" y="432" width="22.65" height="139.1" fill="#d2d2d2" stroke="#000" stroke-width="2"/>
<line x1="1511.72" y1="404.8" x2="1511.72" y2="410" stroke="#000" stroke-width="1.95" stroke-linecap="butt"/>
<line x1="1505.66" y1="404.8" x2="1517.79" y2="404.8" stroke="#000" stroke-width="1.95" stroke-linecap="butt"/>
<rect x="1500.6" y="410" width="22.65" height="161.1" fill="#363636" stroke="#000" stroke-width="2"/>
<line x1="1561.78" y1="452.3" x2="1561.78" y2="458.6" stroke="#000" stroke-width="1.95" stroke-linecap="butt"/>
<line x1="1555.71" y1="452.3" x2="1567.84" y2="452.3" stroke="#000" stroke-width="1.95" stroke-linecap="butt"/>
<rect x="1550.25" y="458.6" width="22.65" height="112.5" fill="#d2d2d2" stroke="#000" stroke-width="2"/>
<line x1="1585.22" y1="471.1" x2="1585.22" y2="479.1" stroke="#000" stroke-width="1.95" stroke-linecap="butt"/>
<line x1="1579.16" y1="471.1" x2="1591.29" y2="471.1" stroke="#000" stroke-width="1.95" stroke-linecap="butt"/>
<rect x="1574.1" y="479.1" width="22.65" height="92" fill="#363636" stroke="#000" stroke-width="2"/>
<line x1="1647.28" y1="416.3" x2="1647.28" y2="427.2" stroke="#000" stroke-width="1.95" stroke-linecap="butt"/>
<line x1="1641.21" y1="416.3" x2="1653.34" y2="416.3" stroke="#000" stroke-width="1.95" stroke-linecap="butt"/>
<rect x="1635.75" y="427.2" width="22.65" height="143.9" fill="#d2d2d2" stroke="#000" stroke-width="2"/>
<line x1="1670.72" y1="390.1" x2="1670.72" y2="396.5" stroke="#000" stroke-width="1.95" stroke-linecap="butt"/>
<line x1="1664.66" y1="390.1" x2="1676.79" y2="390.1" stroke="#000" stroke-width="1.95" stroke-linecap="butt"/>
<rect x="1659.6" y="396.5" width="22.65" height="174.6" fill="#363636" stroke="#000" stroke-width="2"/>
<line x1="1720.78" y1="448.8" x2="1720.78" y2="461.1" stroke="#000" stroke-width="1.95" stroke-linecap="butt"/>
<line x1="1714.71" y1="448.8" x2="1726.84" y2="448.8" stroke="#000" stroke-width="1.95" stroke-linecap="butt"/>
<rect x="1709.25" y="461.1" width="22.65" height="110" fill="#d2d2d2" stroke="#000" stroke-width="2"/>
<line x1="1744.22" y1="448.1" x2="1744.22" y2="455.6" stroke="#000" stroke-width="1.95" stroke-linecap="butt"/>
<line x1="1738.16" y1="448.1" x2="1750.29" y2="448.1" stroke="#000" stroke-width="1.95" stroke-linecap="butt"/>
<rect x="1733.1" y="455.6" width="22.65" height="115.5" fill="#363636" stroke="#000" stroke-width="2"/>
<line x1="1463" y1="366.25" x2="1463" y2="572.15" stroke="#000" stroke-width="2.1" stroke-linecap="butt"/>
<line x1="1461.95" y1="571.1" x2="1769.5" y2="571.1" stroke="#000" stroke-width="2.1" stroke-linecap="butt"/>
<line x1="1454.25" y1="571.1" x2="1463" y2="571.1" stroke="#000" stroke-width="2.1" stroke-linecap="butt"/>
<text x="1451.85" y="576.48" font-size="15.29" font-weight="bold" text-anchor="end" stroke="#000" stroke-width="0.3">0</text>
<line x1="1454.25" y1="530.34" x2="1463" y2="530.34" stroke="#000" stroke-width="2.1" stroke-linecap="butt"/>
<text x="1451.85" y="535.72" font-size="15.29" font-weight="bold" text-anchor="end" stroke="#000" stroke-width="0.3">20</text>
<line x1="1454.25" y1="489.58" x2="1463" y2="489.58" stroke="#000" stroke-width="2.1" stroke-linecap="butt"/>
<text x="1451.85" y="494.96" font-size="15.29" font-weight="bold" text-anchor="end" stroke="#000" stroke-width="0.3">40</text>
<line x1="1454.25" y1="448.82" x2="1463" y2="448.82" stroke="#000" stroke-width="2.1" stroke-linecap="butt"/>
<text x="1451.85" y="454.2" font-size="15.29" font-weight="bold" text-anchor="end" stroke="#000" stroke-width="0.3">60</text>
<line x1="1454.25" y1="408.06" x2="1463" y2="408.06" stroke="#000" stroke-width="2.1" stroke-linecap="butt"/>
<text x="1451.85" y="413.44" font-size="15.29" font-weight="bold" text-anchor="end" stroke="#000" stroke-width="0.3">80</text>
<line x1="1454.25" y1="367.3" x2="1463" y2="367.3" stroke="#000" stroke-width="2.1" stroke-linecap="butt"/>
<text x="1451.85" y="372.68" font-size="15.29" font-weight="bold" text-anchor="end" stroke="#000" stroke-width="0.3">100</text>
<line x1="1499.5" y1="571.1" x2="1499.5" y2="579.1" stroke="#000" stroke-width="2.1" stroke-linecap="butt"/>
<text x="1499.5" y="596.5" font-size="15.6" font-weight="bold" text-anchor="middle" stroke="#000" stroke-width="0.3">Sham</text>
<line x1="1573" y1="571.1" x2="1573" y2="579.1" stroke="#000" stroke-width="2.1" stroke-linecap="butt"/>
<text x="1573" y="596.5" font-size="15.6" font-weight="bold" text-anchor="middle" stroke="#000" stroke-width="0.3">HDM</text>
<line x1="1658.5" y1="571.1" x2="1658.5" y2="579.1" stroke="#000" stroke-width="2.1" stroke-linecap="butt"/>
<text x="1658.5" y="596.5" font-size="15.6" font-weight="bold" text-anchor="middle" stroke="#000" stroke-width="0.3">Sham</text>
<line x1="1732" y1="571.1" x2="1732" y2="579.1" stroke="#000" stroke-width="2.1" stroke-linecap="butt"/>
<text x="1732" y="596.5" font-size="15.6" font-weight="bold" text-anchor="middle" stroke="#000" stroke-width="0.3">HDM</text>
<line x1="1472.5" y1="608.2" x2="1594.25" y2="608.2" stroke="#555" stroke-width="1.2" stroke-linecap="butt"/>
<line x1="1628.25" y1="608.2" x2="1750" y2="608.2" stroke="#555" stroke-width="1.2" stroke-linecap="butt"/>
<text x="1537" y="631" font-size="17" font-weight="bold" text-anchor="middle" stroke="#000" stroke-width="0.3">SC</text>
<text x="1690.6" y="629" font-size="17" font-weight="bold" text-anchor="middle" stroke="#000" stroke-width="0.3">HFD</text>
<text x="1532.53" y="391.71" font-family='"DejaVu Sans", "Liberation Sans", sans-serif' font-size="17" font-weight="normal" letter-spacing="1.65" stroke="#000" stroke-width="0.6" text-anchor="start">****</text>
<line x1="1514.25" y1="396" x2="1590.75" y2="396" stroke="#000" stroke-width="2.2" stroke-linecap="butt"/>
<text x="1691.53" y="367.71" font-family='"DejaVu Sans", "Liberation Sans", sans-serif' font-size="17" font-weight="normal" letter-spacing="1.65" stroke="#000" stroke-width="0.6" text-anchor="start">****</text>
<line x1="1669.25" y1="372" x2="1753" y2="372" stroke="#000" stroke-width="2.2" stroke-linecap="butt"/>
<text x="1462.7" y="364.3" font-size="40" font-weight="bold" text-anchor="start" stroke="#000" stroke-width="0.3">G</text>
<text transform="translate(1417.4,468.2) rotate(-90)" font-size="16.9" font-weight="bold" stroke="#000" stroke-width="0.3" text-anchor="middle">Monocytes BAL (%)</text>
</g>
<text x="121.5" y="490.4" font-size="29.6" font-weight="bold" letter-spacing="0.37" stroke="#000" stroke-width="0.3" text-anchor="start">Cells in BAL</text>
</svg></body></html>
